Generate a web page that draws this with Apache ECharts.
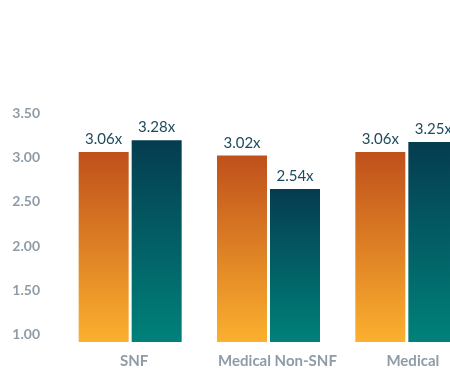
<!DOCTYPE html>
<html>
<head>
<meta charset="utf-8">
<script src="https://cdn.jsdelivr.net/npm/echarts@6/dist/echarts.min.js"></script>
<style>
  html, body { margin: 0; padding: 0; background: #ffffff; }
  #chart { width: 450px; height: 373px; }
</style>
</head>
<body>
<div id="chart"></div>
<script>
// Multiples by segment
const categories = ['SNF', 'Medical Non-SNF', 'Medical'];
const orangeValues = [3.06, 3.02, 3.06];
const tealValues = [3.28, 2.54, 3.25];
const yTickLabels = [1.00, 1.50, 2.00, 2.50, 3.00, 3.50];

const axisGrey = '#8f9ca7';
const labelInk = '#1f4a5c';
const fontStack = 'Lato, "Noto Sans", sans-serif';

const orangeFill = new echarts.graphic.LinearGradient(0, 0, 0, 1, [
  { offset: 0, color: '#bf501b' },
  { offset: 1, color: '#fbb02f' }
]);
const tealFill = new echarts.graphic.LinearGradient(0, 0, 0, 1, [
  { offset: 0, color: '#053c4f' },
  { offset: 1, color: '#00817a' }
]);

const valueLabel = {
  show: true,
  position: 'top',
  distance: 5,
  color: labelInk,
  fontFamily: fontStack,
  fontSize: 15,
  formatter: p => p.value.toFixed(2) + 'x'
};

// category labels sit slightly right of their band centres
const catLabelStyle = pad => ({
  color: axisGrey,
  fontFamily: fontStack,
  fontWeight: 'bold',
  fontSize: 15,
  padding: [0, 0, 0, pad]
});

const chart = echarts.init(document.getElementById('chart'), null, { renderer: 'canvas' });
chart.setOption({
  animation: false,
  backgroundColor: '#ffffff',
  grid: {
    left: 61, top: 113, width: 415, bottom: 31,
    containLabel: false,
    outerBoundsMode: 'none'
  },
  xAxis: {
    type: 'category',
    data: categories,
    axisLine: { show: false },
    axisTick: { show: false },
    axisLabel: {
      margin: 12,
      interval: 0,
      formatter: (v, i) => '{c' + i + '|' + v + '}',
      rich: {
        c0: catLabelStyle(8),
        c1: catLabelStyle(18),
        c2: catLabelStyle(12)
      }
    }
  },
  yAxis: [
    {
      type: 'value',
      min: 0.92,
      max: 3.5,
      splitLine: { show: false },
      axisLine: { show: false },
      axisTick: { show: false },
      axisLabel: {
        customValues: yTickLabels,
        formatter: v => v.toFixed(2),
        color: axisGrey,
        fontFamily: fontStack,
        fontWeight: 'bold',
        fontSize: 14,
        margin: 21
      }
    },
    {
      type: 'value',
      show: false,
      min: 0.23,
      max: 3.69,
      splitLine: { show: false }
    }
  ],
  series: [
    {
      type: 'bar',
      yAxisIndex: 0,
      data: orangeValues,
      barWidth: 50,
      barGap: '6%',
      itemStyle: { color: orangeFill },
      label: valueLabel
    },
    {
      type: 'bar',
      yAxisIndex: 1,
      data: tealValues,
      barWidth: 50,
      itemStyle: { color: tealFill },
      label: valueLabel
    }
  ]
});
</script>
</body>
</html>
